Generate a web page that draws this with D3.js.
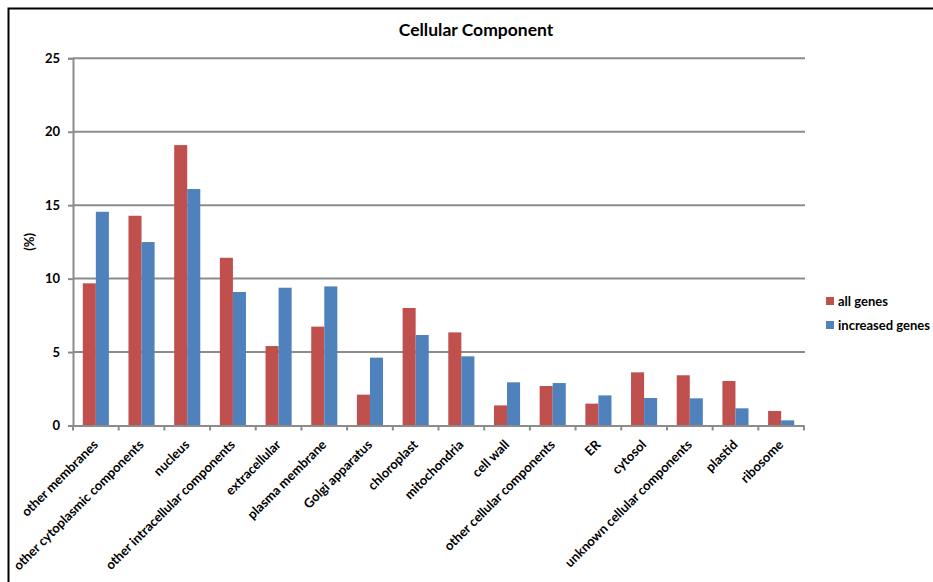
<!DOCTYPE html>
<html>
<head>
<meta charset="utf-8">
<script src="https://cdn.jsdelivr.net/npm/d3@7"></script>
<style>
  html, body { margin: 0; padding: 0; background: #fff; }
  svg { display: block; font-family: Lato, "Open Sans", sans-serif; }
</style>
</head>
<body>
<svg id="chart" width="933" height="582"></svg>
<script>
// Gene Ontology cellular component distribution (%)
const categories = [
  "other membranes", "other cytoplasmic components", "nucleus",
  "other intracellular components", "extracellular", "plasma membrane",
  "Golgi apparatus", "chloroplast", "mitochondria", "cell wall",
  "other cellular components", "ER", "cytosol",
  "unknown cellular components", "plastid", "ribosome"
];
const allGenes = [9.68, 14.28, 19.09, 11.42, 5.41, 6.73, 2.10, 8.00, 6.34, 1.37, 2.69, 1.49, 3.62, 3.42, 3.03, 0.99];
const increasedGenes = [14.55, 12.49, 16.10, 9.09, 9.38, 9.47, 4.62, 6.16, 4.71, 2.94, 2.89, 2.05, 1.87, 1.85, 1.17, 0.35];
const seriesNames = ["all genes", "increased genes"];
const seriesColors = ["#C0504D", "#4F81BD"];
const yTicks = [0, 5, 10, 15, 20, 25];

const svg = d3.select("#chart");

// outer chart frame
svg.append("rect")
  .attr("x", 8.5).attr("y", 8.5)
  .attr("width", 1000).attr("height", 1000)
  .attr("fill", "none").attr("stroke", "#000").attr("stroke-width", 2);

const plot = { left: 73, right: 804, top: 58.3, bottom: 425.5 };

const x0 = d3.scaleBand().domain(categories).range([plot.left, plot.right]).paddingInner(0).paddingOuter(0);
const barW = x0.bandwidth() / 3.5;
const x1 = d3.scaleBand().domain(seriesNames).range([0, barW * 2]);
const y = d3.scaleLinear().domain([0, 25]).range([plot.bottom, plot.top]);

// horizontal gridlines
svg.append("g")
  .selectAll("line").data(yTicks.filter(d => d > 0)).join("line")
  .attr("x1", plot.left).attr("x2", plot.right + 1)
  .attr("y1", d => y(d)).attr("y2", d => y(d))
  .attr("stroke", "#8c8c8c").attr("stroke-width", 2);

// y axis
const yAxis = svg.append("g")
  .attr("transform", `translate(${plot.left},0)`)
  .call(d3.axisLeft(y).tickValues(yTicks).tickSize(5).tickPadding(8));
yAxis.select(".domain").attr("stroke", "#8c8c8c").attr("stroke-width", 2);
yAxis.selectAll(".tick line").attr("stroke", "#8c8c8c").attr("stroke-width", 2);
yAxis.selectAll(".tick text")
  .attr("font-size", 13).attr("font-weight", "bold").attr("fill", "#000")
  .attr("font-family", "Lato, sans-serif");

// bars
const data = categories.map((c, i) => ({ c, vals: [allGenes[i], increasedGenes[i]] }));
const groups = svg.append("g").selectAll("g").data(data).join("g")
  .attr("transform", d => `translate(${x0(d.c) + barW * 0.75},0)`);
groups.selectAll("rect")
  .data(d => d.vals.map((v, k) => ({ key: seriesNames[k], v, k })))
  .join("rect")
  .attr("x", d => x1(d.key))
  .attr("y", d => y(d.v))
  .attr("width", x1.bandwidth())
  .attr("height", d => y(0) - y(d.v))
  .attr("fill", d => seriesColors[d.k]);

// x axis
const xAxis = svg.append("g")
  .attr("transform", `translate(0,${plot.bottom})`)
  .call(d3.axisBottom(x0).tickSize(0).tickFormat(""));
xAxis.select(".domain").attr("stroke", "#8c8c8c").attr("stroke-width", 2);
// category boundary tick marks
svg.append("g").selectAll("line")
  .data(d3.range(categories.length + 1))
  .join("line")
  .attr("x1", i => plot.left + i * x0.step())
  .attr("x2", i => plot.left + i * x0.step())
  .attr("y1", plot.bottom).attr("y2", plot.bottom + 5)
  .attr("stroke", "#8c8c8c").attr("stroke-width", 2);

// rotated category labels
svg.append("g").selectAll("text").data(categories).join("text")
  .attr("transform", d => `translate(${x0(d) + x0.bandwidth() / 2 + 3},${plot.bottom + 20}) rotate(-45)`)
  .attr("text-anchor", "end")
  .attr("font-size", 13).attr("font-weight", "bold").attr("fill", "#000")
  .text(d => d);

// y axis title
svg.append("text")
  .attr("transform", `translate(34,${(plot.top + plot.bottom) / 2}) rotate(-90)`)
  .attr("text-anchor", "middle")
  .attr("font-size", 13).attr("font-weight", "bold")
  .text("(%)");

// chart title
svg.append("text")
  .attr("x", 476).attr("y", 36)
  .attr("text-anchor", "middle")
  .attr("font-size", 17.5).attr("font-weight", "bold")
  .text("Cellular Component");

// legend
const legend = svg.append("g").selectAll("g").data(seriesNames).join("g")
  .attr("transform", (d, i) => `translate(826,${297 + i * 24})`);
legend.append("rect").attr("width", 8).attr("height", 8)
  .attr("fill", (d, i) => seriesColors[i]);
legend.append("text").attr("x", 12).attr("y", 8.5)
  .attr("font-size", 13).attr("font-weight", "bold")
  .text(d => d);
</script>
</body>
</html>
